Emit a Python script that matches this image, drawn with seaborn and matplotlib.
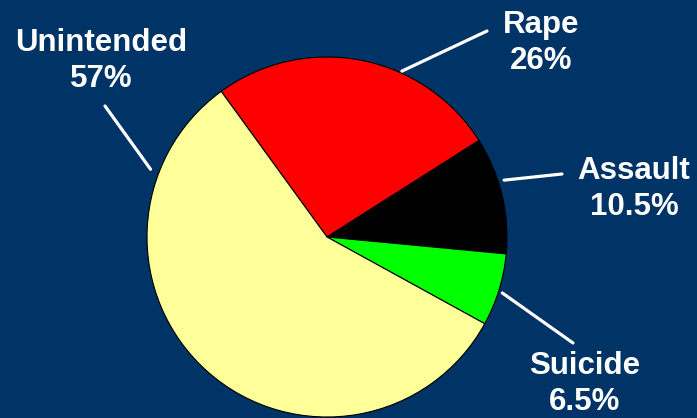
import numpy as np
import matplotlib
matplotlib.use("Agg")
import matplotlib.pyplot as plt
import seaborn as sns

# pie data (clockwise order from the red/yellow border)
labels = ["Rape", "Assault", "Suicide", "Unintended"]
values = [26, 10.5, 6.5, 57]
colors = ["#FF0000", "#000000", "#00FF00", "#FFFF99"]

sns.set_theme(style="white")
plt.rcParams["font.family"] = ["Liberation Sans", "DejaVu Sans"]

BG = "#003366"
W, H = 697, 418

fig = plt.figure(figsize=(W / 100, H / 100), dpi=100, facecolor=BG)
ax = fig.add_axes([0, 0, 1, 1])
ax.set_facecolor(BG)

# pixel-ish coordinates, y up
cx, cy, R = 327, H - 237, 180
ax.pie(values, colors=colors, startangle=126, counterclock=False,
       center=(cx, cy), radius=R,
       wedgeprops=dict(edgecolor="black", linewidth=0.8))
ax.set_xlim(0, W)
ax.set_ylim(0, H)
ax.set_aspect("equal")
ax.axis("off")

# label layout: (leader start angle, start dist, leader end px, text centre px)
layout = {
    "Unintended": (159, 189, (105, 106), (101, 61)),
    "Rape": (65.7, 182, (487, 31), (541, 43)),
    "Assault": (17.8, 186, (562, 174), (634, 189)),
    "Suicide": (-17.7, 184, (573, 343), (585, 384)),
}

for lab, val in zip(labels, values):
    ang, dist, end, txt = layout[lab]
    a = np.deg2rad(ang)
    start = (cx + dist * np.cos(a), cy + dist * np.sin(a))
    ax.annotate("", xy=start, xytext=(end[0], H - end[1]),
                arrowprops=dict(arrowstyle="-", color="white", lw=2.3,
                                shrinkA=0, shrinkB=0))
    ax.text(txt[0], H - txt[1], f"{lab}\n{val:g}%", color="white",
            fontsize=22.5, fontweight="bold", ha="center", va="center",
            linespacing=1.22)

fig.savefig("out.png", dpi=100, facecolor=BG)
